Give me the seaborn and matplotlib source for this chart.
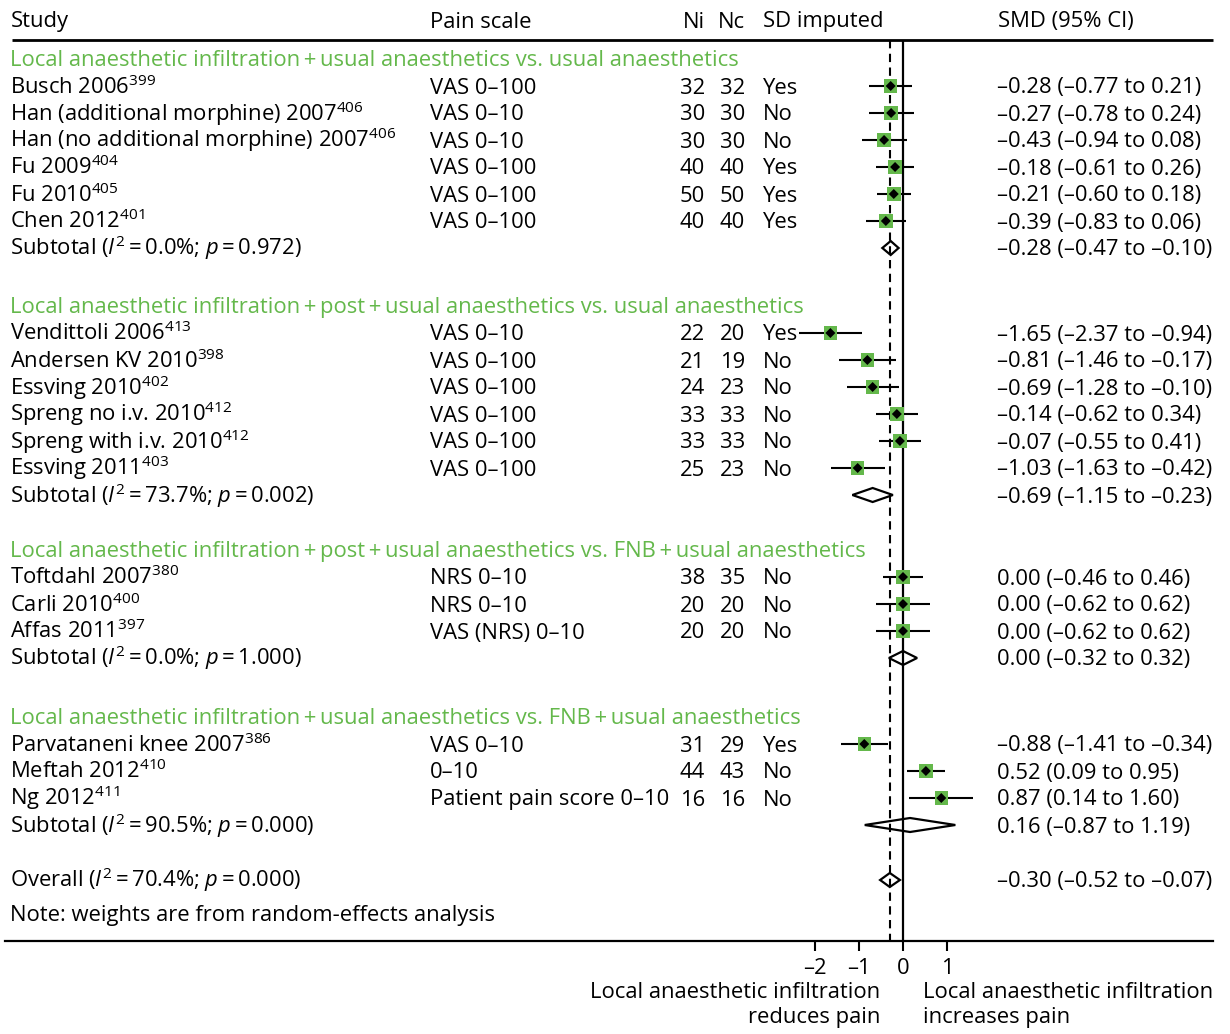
import numpy as np
import pandas as pd
import matplotlib
matplotlib.use("Agg")
import matplotlib.pyplot as plt
import matplotlib.transforms as mtransforms
import seaborn as sns

# ---- data ----
group_titles = [
    "Local anaesthetic infiltration\u2009+\u2009usual anaesthetics vs. usual anaesthetics",
    "Local anaesthetic infiltration\u2009+\u2009post\u2009+\u2009usual anaesthetics vs. usual anaesthetics",
    "Local anaesthetic infiltration\u2009+\u2009post\u2009+\u2009usual anaesthetics vs. FNB\u2009+\u2009usual anaesthetics",
    "Local anaesthetic infiltration\u2009+\u2009usual anaesthetics vs. FNB\u2009+\u2009usual anaesthetics",
]
study = ["Busch 2006", "Han (additional morphine) 2007", "Han (no additional morphine) 2007",
         "Fu 2009", "Fu 2010", "Chen 2012",
         "Vendittoli 2006", "Andersen KV 2010", "Essving 2010", "Spreng no i.v. 2010",
         "Spreng with i.v. 2010", "Essving 2011",
         "Toftdahl 2007", "Carli 2010", "Affas 2011",
         "Parvataneni knee 2007", "Meftah 2012", "Ng 2012"]
ref = ["399", "406", "406", "404", "405", "401",
       "413", "398", "402", "412", "412", "403",
       "380", "400", "397",
       "386", "410", "411"]
group = [0, 0, 0, 0, 0, 0, 1, 1, 1, 1, 1, 1, 2, 2, 2, 3, 3, 3]
pain_scale = ["VAS 0–100", "VAS 0–10", "VAS 0–10", "VAS 0–100", "VAS 0–100", "VAS 0–100",
              "VAS 0–10", "VAS 0–100", "VAS 0–100", "VAS 0–100", "VAS 0–100", "VAS 0–100",
              "NRS 0–10", "NRS 0–10", "VAS (NRS) 0–10",
              "VAS 0–10", "0–10", "Patient pain score 0–10"]
ni = [32, 30, 30, 40, 50, 40, 22, 21, 24, 33, 33, 25, 38, 20, 20, 31, 44, 16]
nc = [32, 30, 30, 40, 50, 40, 20, 19, 23, 33, 33, 23, 35, 20, 20, 29, 43, 16]
sd_imputed = ["Yes", "No", "No", "Yes", "Yes", "Yes",
              "Yes", "No", "No", "No", "No", "No",
              "No", "No", "No",
              "Yes", "No", "No"]
smd = [-0.28, -0.27, -0.43, -0.18, -0.21, -0.39,
       -1.65, -0.81, -0.69, -0.14, -0.07, -1.03,
       0.00, 0.00, 0.00,
       -0.88, 0.52, 0.87]
ci_lo = [-0.77, -0.78, -0.94, -0.61, -0.60, -0.83,
         -2.37, -1.46, -1.28, -0.62, -0.55, -1.63,
         -0.46, -0.62, -0.62,
         -1.41, 0.09, 0.14]
ci_hi = [0.21, 0.24, 0.08, 0.26, 0.18, 0.06,
         -0.94, -0.17, -0.10, 0.34, 0.41, -0.42,
         0.46, 0.62, 0.62,
         -0.34, 0.95, 1.60]

sub_i2 = ["0.0", "73.7", "0.0", "90.5"]
sub_p = ["0.972", "0.002", "1.000", "0.000"]
sub_smd = [-0.28, -0.69, 0.00, 0.16]
sub_lo = [-0.47, -1.15, -0.32, -0.87]
sub_hi = [-0.10, -0.23, 0.32, 1.19]

overall_i2 = "70.4"
overall_p = "0.000"
overall_smd = -0.30
overall_lo = -0.52
overall_hi = -0.07

xticks = [-2, -1, 0, 1]

# ---- style ----
sns.set_theme(style="white")
plt.rcParams["font.family"] = ["Open Sans", "DejaVu Sans"]
plt.rcParams["mathtext.fontset"] = "custom"
plt.rcParams["mathtext.rm"] = "Open Sans"
plt.rcParams["mathtext.it"] = "Open Sans:italic"
FS = 15.8
GREEN = "#64b84b"
W, H = 1230, 1034
X0, UNIT = 903, 44.0   # pixel of SMD 0, pixels per SMD unit


def fmt(v):
    return f"{v:.2f}".replace("-", "\u2013")


def ci_text(e, l, h):
    return f"{fmt(e)} ({fmt(l)} to {fmt(h)})"


def het_text(lab, i2, p):
    return lab + " ($\\mathit{I}^{2}$\u2009=\u2009" + i2 + "%; $\\mathit{p}$\u2009=\u2009" + p + ")"


# ---- layout: row centres in pixel units ----
ROW = 27
title_y, study_y, sub_y = [], [], []
y = 59
gaps = [58, 55, 59]
for g in range(len(group_titles)):
    title_y.append(y)
    for _ in range(group.count(g)):
        y += ROW
        study_y.append(y)
    y += ROW
    sub_y.append(y)
    if g < len(gaps):
        y += gaps[g]
overall_y = sub_y[-1] + 55
note_y = overall_y + 33
axis_y = 941
top_y = 40

df = pd.DataFrame({"smd": smd, "lo": ci_lo, "hi": ci_hi, "y": study_y})

fig = plt.figure(figsize=(W / 100, H / 100), dpi=100)
ax = fig.add_axes([0, 0, 1, 1])
ax.set_xlim(-X0 / UNIT, (W - X0) / UNIT)
ax.set_ylim(H, 0)
ax.patch.set_alpha(0)

tr = mtransforms.blended_transform_factory(ax.transAxes, ax.transData)


def col(px):
    return px / W


def put(px, yy, s, ha="left", color="black"):
    ax.text(col(px), yy + 7.5, s, ha=ha, va="baseline", fontsize=FS, color=color,
            transform=tr, clip_on=False)


# header
put(11, 20, "Study")
put(430, 20, "Pain scale")
put(705, 20, "Ni", ha="right")
put(745, 20, "Nc", ha="right")
put(763, 20, "SD imputed")
put(998, 20, "SMD (95% CI)")
ax.hlines(top_y, col(12), col(1213), color="black", lw=2, transform=tr, clip_on=False)

# reference lines
ax.vlines(0, top_y, axis_y, color="black", lw=1.6, zorder=2)
ax.vlines(overall_smd, top_y, axis_y, color="black", lw=1.5, linestyles=(0, (4, 2.6)), zorder=2)

# CI lines and weight squares
ax.hlines(df["y"], df["lo"], df["hi"], color="black", lw=1.5, zorder=3)
sns.scatterplot(data=df, x="smd", y="y", marker="s", s=95, color=GREEN, edgecolor="none",
                ax=ax, zorder=4, legend=False)
sns.scatterplot(data=df, x="smd", y="y", marker="D", s=26, color="black", edgecolor="none",
                ax=ax, zorder=5, legend=False)

# text rows
for g, t in enumerate(group_titles):
    put(10, title_y[g], t, color=GREEN)
for i in range(len(study)):
    yy = study_y[i]
    put(10, yy, study[i] + "$^{\\mathrm{" + ref[i] + "}}$")
    put(430, yy, pain_scale[i])
    put(705, yy, str(ni[i]), ha="right")
    put(745, yy, str(nc[i]), ha="right")
    put(763, yy, sd_imputed[i])
    put(997, yy, ci_text(smd[i], ci_lo[i], ci_hi[i]))

# pooled diamonds
def diamond(e, l, h, yy):
    ax.fill([l, e, h, e], [yy, yy - 7, yy, yy + 7], facecolor="none", edgecolor="black",
            lw=1.6, zorder=6)


for g in range(len(group_titles)):
    put(10, sub_y[g], het_text("Subtotal", sub_i2[g], sub_p[g]))
    put(997, sub_y[g], ci_text(sub_smd[g], sub_lo[g], sub_hi[g]))
    diamond(sub_smd[g], sub_lo[g], sub_hi[g], sub_y[g])

put(10, overall_y, het_text("Overall", overall_i2, overall_p))
put(997, overall_y, ci_text(overall_smd, overall_lo, overall_hi))
diamond(overall_smd, overall_lo, overall_hi, overall_y)
put(10, note_y, "Note: weights are from random-effects analysis")

# x axis
for s in ["top", "left", "right"]:
    ax.spines[s].set_visible(False)
ax.spines["bottom"].set_position(("data", axis_y))
ax.spines["bottom"].set_bounds((5 - X0) / UNIT, (1213 - X0) / UNIT)
ax.spines["bottom"].set_linewidth(1.6)
ax.spines["bottom"].set_color("black")
ax.set_xticks(xticks)
ax.set_xticklabels([str(t).replace("-", "\u2013") for t in xticks])
ax.tick_params(axis="x", direction="out", length=7.5, width=1.5, pad=5, labelsize=FS,
               bottom=True, colors="black")
ax.set_yticks([])
ax.set_xlabel("")
ax.set_ylabel("")

put(880, 990, "Local anaesthetic infiltration", ha="right")
put(880, 1016, "reduces pain", ha="right")
put(923, 990, "Local anaesthetic infiltration")
put(923, 1016, "increases pain")

fig.savefig("out.png", dpi=100)
